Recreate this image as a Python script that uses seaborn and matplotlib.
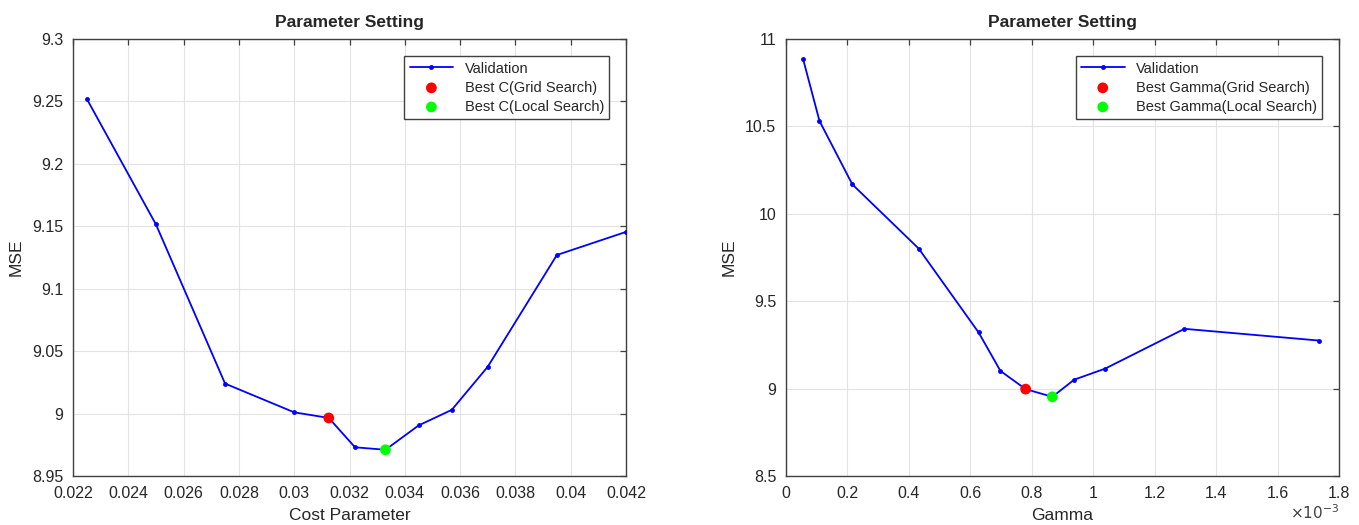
import numpy as np
import pandas as pd
import matplotlib
matplotlib.use("Agg")
import matplotlib.pyplot as plt
import seaborn as sns

# Datos
cost_x = [0.0225, 0.025, 0.0275, 0.030, 0.03125, 0.0322, 0.0333, 0.0345, 0.0357, 0.0370, 0.0395, 0.042]
cost_mse = [9.252, 9.1515, 9.0240, 9.0010, 8.9965, 8.9730, 8.9710, 8.9905, 9.0030, 9.0375, 9.1270, 9.1455]
best_c_grid = (0.03125, 8.9965)
best_c_local = (0.0333, 8.9710)

gamma_x = [0.056e-3, 0.109e-3, 0.216e-3, 0.432e-3, 0.627e-3, 0.698e-3, 0.780e-3, 0.867e-3, 0.938e-3, 1.0385e-3, 1.297e-3, 1.734e-3]
gamma_mse = [10.883, 10.531, 10.168, 9.801, 9.321, 9.101, 8.997, 8.953, 9.051, 9.114, 9.342, 9.275]
best_g_grid = (0.780e-3, 8.997)
best_g_local = (0.867e-3, 8.953)

sns.set_style("white")
plt.rcParams["font.family"] = ["Liberation Sans", "DejaVu Sans"]

fig = plt.figure(figsize=(13.59, 5.25), dpi=100)
ax1 = fig.add_axes([73 / 1359, 49 / 525, 553 / 1359, 437 / 525])
ax2 = fig.add_axes([786 / 1359, 49 / 525, 553 / 1359, 437 / 525])

paneles = [
    (ax1, cost_x, cost_mse, best_c_grid, best_c_local, "Best C", "Cost Parameter",
     np.round(np.arange(0.022, 0.0421, 0.002), 3), np.round(np.arange(8.95, 9.301, 0.05), 2),
     (0.022, 0.042), (8.95, 9.3)),
    (ax2, gamma_x, gamma_mse, best_g_grid, best_g_local, "Best Gamma", "Gamma",
     np.round(np.arange(0, 1.81e-3, 0.2e-3), 5), np.arange(8.5, 11.01, 0.5),
     (0, 1.8e-3), (8.5, 11)),
]

gris = "#404040"

for ax, xs, ys, grid_pt, local_pt, nombre, xlab, xt, yt, xl, yl in paneles:
    df = pd.DataFrame({"x": xs, "mse": ys})
    sns.lineplot(data=df, x="x", y="mse", ax=ax, color="#0000ff", marker="o",
                 markersize=3.5, markeredgewidth=0, linewidth=1.3, label="Validation", zorder=3)
    sns.scatterplot(x=[grid_pt[0]], y=[grid_pt[1]], ax=ax, color="#ff0000", s=60,
                    edgecolor="none", label=nombre + "(Grid Search)", zorder=4)
    sns.scatterplot(x=[local_pt[0]], y=[local_pt[1]], ax=ax, color="#00ff00", s=60,
                    edgecolor="none", label=nombre + "(Local Search)", zorder=4)

    ax.set_xlim(*xl)
    ax.set_ylim(*yl)
    ax.set_xticks(xt)
    ax.set_yticks(yt)
    if ax is ax2:
        ax.set_xticklabels(["%g" % (v * 1e3) for v in xt])
    else:
        ax.set_xticklabels(["%g" % v for v in xt])
    ax.set_yticklabels(["%g" % v for v in yt])

    ax.grid(True, color="#e3e3e3", linewidth=0.8)
    ax.tick_params(direction="in", length=4, width=0.9, color=gris, labelsize=11.5,
                   labelcolor="#262626", top=True, right=True, pad=7)
    for s in ax.spines.values():
        s.set_visible(True)
        s.set_color(gris)
        s.set_linewidth(1.0)

    ax.set_title("Parameter Setting", fontsize=12.5, fontweight="bold", pad=9)
    ax.set_xlabel(xlab, fontsize=12.5, color="#262626", labelpad=5)
    ax.set_ylabel("MSE", fontsize=12.5, color="#262626", labelpad=6)

    leg = ax.legend(loc="upper right", bbox_to_anchor=(0.97, 0.96), fontsize=10.5,
                    frameon=True, fancybox=False, framealpha=1, edgecolor=gris,
                    borderpad=0.35, labelspacing=0.35, handlelength=3.0, handletextpad=0.8,
                    borderaxespad=0)
    leg.get_frame().set_linewidth(1.0)

# factor de escala del eje Gamma
fig.text(1339 / 1359, 3 / 525, r"$\times10^{-3}$", ha="right", va="bottom",
         fontsize=11, color=gris)

fig.savefig("out.png", dpi=100)
